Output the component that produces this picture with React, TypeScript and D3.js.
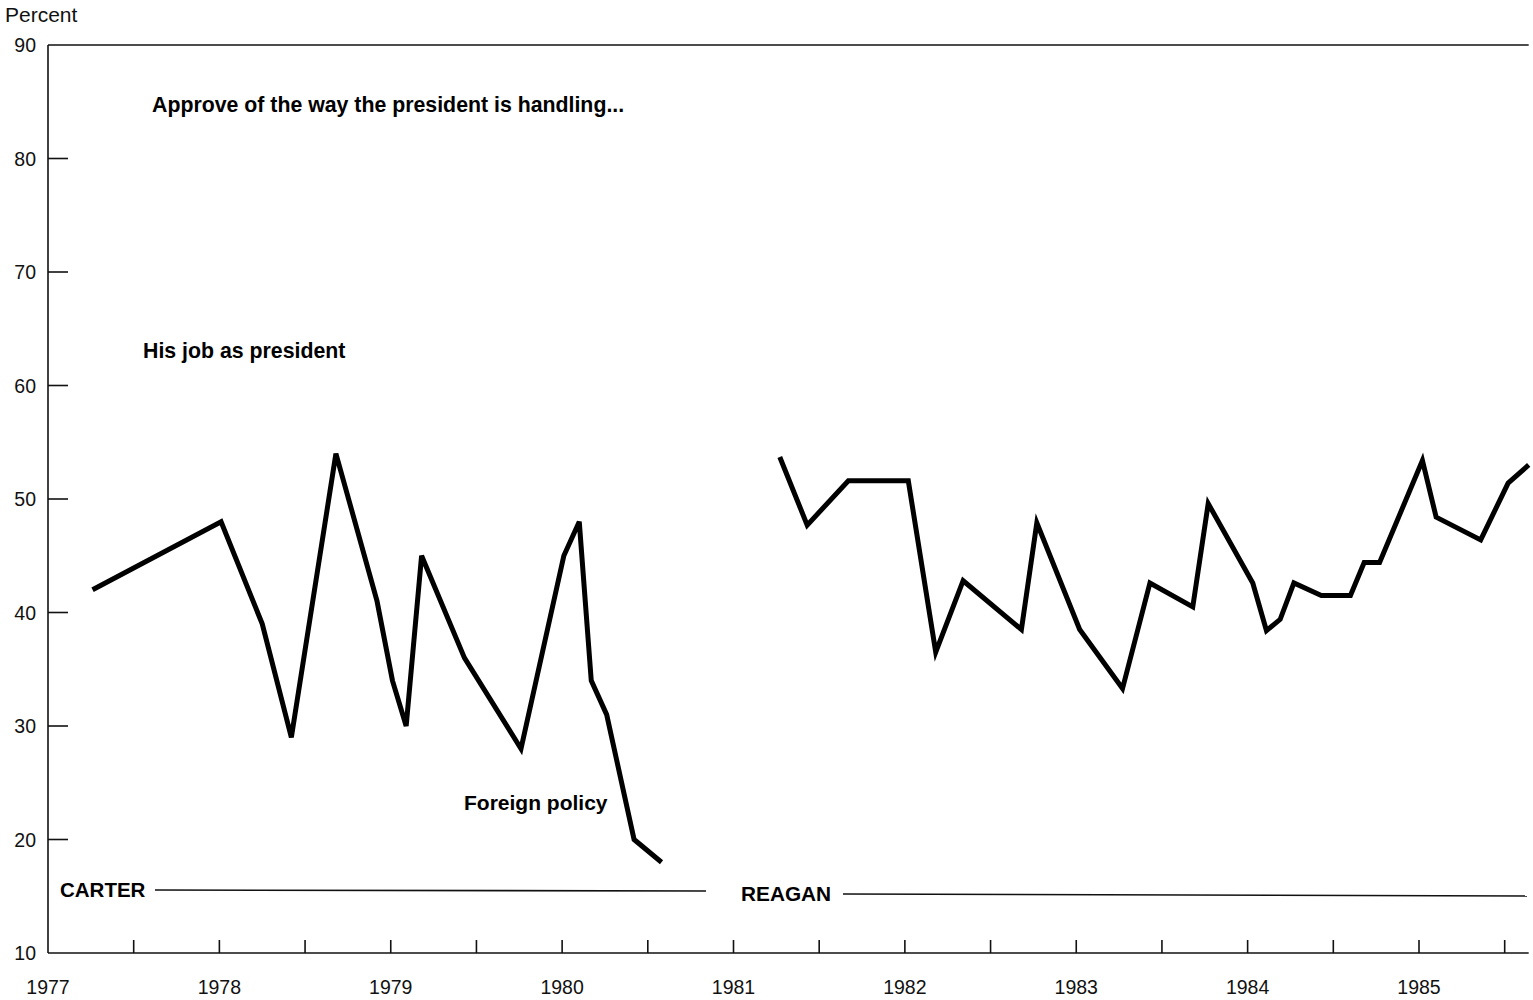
import React from "react";
import * as d3 from "d3";

const carterDates = [1977.26, 1978.01, 1978.25, 1978.42, 1978.68, 1978.92, 1979.01, 1979.09, 1979.18, 1979.43, 1979.76, 1980.01, 1980.1, 1980.17, 1980.26, 1980.42, 1980.58];
const carterValues = [42, 48, 39, 29, 54, 41, 34, 30, 45, 36, 28, 45, 48, 34, 31, 20, 18];

const reaganDates = [1981.27, 1981.43, 1981.67, 1982.02, 1982.18, 1982.34, 1982.68, 1982.77, 1983.02, 1983.27, 1983.43, 1983.68, 1983.77, 1984.03, 1984.11, 1984.19, 1984.27, 1984.43, 1984.6, 1984.68, 1984.77, 1985.02, 1985.1, 1985.36, 1985.52, 1985.64];
const reaganValues = [53.7, 47.7, 51.6, 51.6, 36.5, 42.8, 38.5, 47.9, 38.5, 33.3, 42.6, 40.5, 49.6, 42.6, 38.4, 39.4, 42.6, 41.5, 41.5, 44.4, 44.4, 53.4, 48.4, 46.4, 51.4, 53];

const yTicks = [10, 20, 30, 40, 50, 60, 70, 80, 90];
const yearLabels = [1977, 1978, 1979, 1980, 1981, 1982, 1983, 1984, 1985];
const halfYearTicks = [1977.5, 1978, 1978.5, 1979, 1979.5, 1980, 1980.5, 1981, 1981.5, 1982, 1982.5, 1983, 1983.5, 1984, 1984.5, 1985, 1985.5];

const xMin = 1977;
const xMax = 1985.64;

export default function App() {
  const x = d3.scaleLinear().domain([1977, 1985]).range([48, 1419]);
  const y = d3.scaleLinear().domain([10, 90]).range([953, 45]);
  const line = d3
    .line<[number, number]>()
    .x((d) => x(d[0]))
    .y((d) => y(d[1]));
  const carter = carterDates.map((d, i) => [d, carterValues[i]] as [number, number]);
  const reagan = reaganDates.map((d, i) => [d, reaganValues[i]] as [number, number]);
  const font = "'Liberation Sans', Arial, Helvetica, sans-serif";
  const x0 = x(xMin);
  const x1 = x(xMax);

  return (
    <svg
      width={1533}
      height={1000}
      style={{ position: "absolute", left: 0, top: 0, background: "#fff" }}
      fontFamily={font}
    >
      <rect x={0} y={0} width={1533} height={1000} fill="#fff" />
      <text x={5} y={22} fontSize={21} fill="#111">Percent</text>
      {/* frame */}
      <line x1={x0} x2={x0} y1={y(90)} y2={y(10)} stroke="#111" strokeWidth={1.6} />
      <line x1={x0} x2={x1} y1={y(90)} y2={y(90)} stroke="#111" strokeWidth={1.6} />
      <line x1={x0} x2={x1} y1={y(10)} y2={y(10)} stroke="#111" strokeWidth={1.6} />
      {yTicks.map((t) => (
        <g key={t}>
          {t !== 10 && t !== 90 && (
            <line x1={x0} x2={x0 + 20} y1={y(t)} y2={y(t)} stroke="#111" strokeWidth={1.6} />
          )}
          <text x={36} y={y(t) + 7} fontSize={19.5} textAnchor="end" fill="#111">
            {t}
          </text>
        </g>
      ))}
      {halfYearTicks.map((t) => (
        <line key={t} x1={x(t)} x2={x(t)} y1={y(10)} y2={y(10) - 13} stroke="#111" strokeWidth={1.6} />
      ))}
      {yearLabels.map((t) => (
        <text key={t} x={x(t)} y={994} fontSize={19.5} textAnchor="middle" fill="#111">
          {t}
        </text>
      ))}
      {/* series */}
      <path d={line(carter) || ""} fill="none" stroke="#000" strokeWidth={5} strokeLinejoin="miter" />
      <path d={line(reagan) || ""} fill="none" stroke="#000" strokeWidth={5} strokeLinejoin="miter" />
      {/* annotations */}
      <text x={152} y={112} fontSize={21.3} fontWeight="bold" fill="#000">
        Approve of the way the president is handling...
      </text>
      <text x={143} y={358} fontSize={21.3} fontWeight="bold" fill="#000">
        His job as president
      </text>
      <text x={464} y={810} fontSize={21} fontWeight="bold" fill="#000">
        Foreign policy
      </text>
      <text x={60} y={897} fontSize={20.5} fontWeight="bold" fill="#000">
        CARTER
      </text>
      <line x1={155} x2={706} y1={890} y2={891} stroke="#111" strokeWidth={1.6} />
      <text x={741} y={901} fontSize={20.8} fontWeight="bold" fill="#000">
        REAGAN
      </text>
      <line x1={843} x2={1527} y1={894} y2={896} stroke="#111" strokeWidth={1.6} />
    </svg>
  );
}
